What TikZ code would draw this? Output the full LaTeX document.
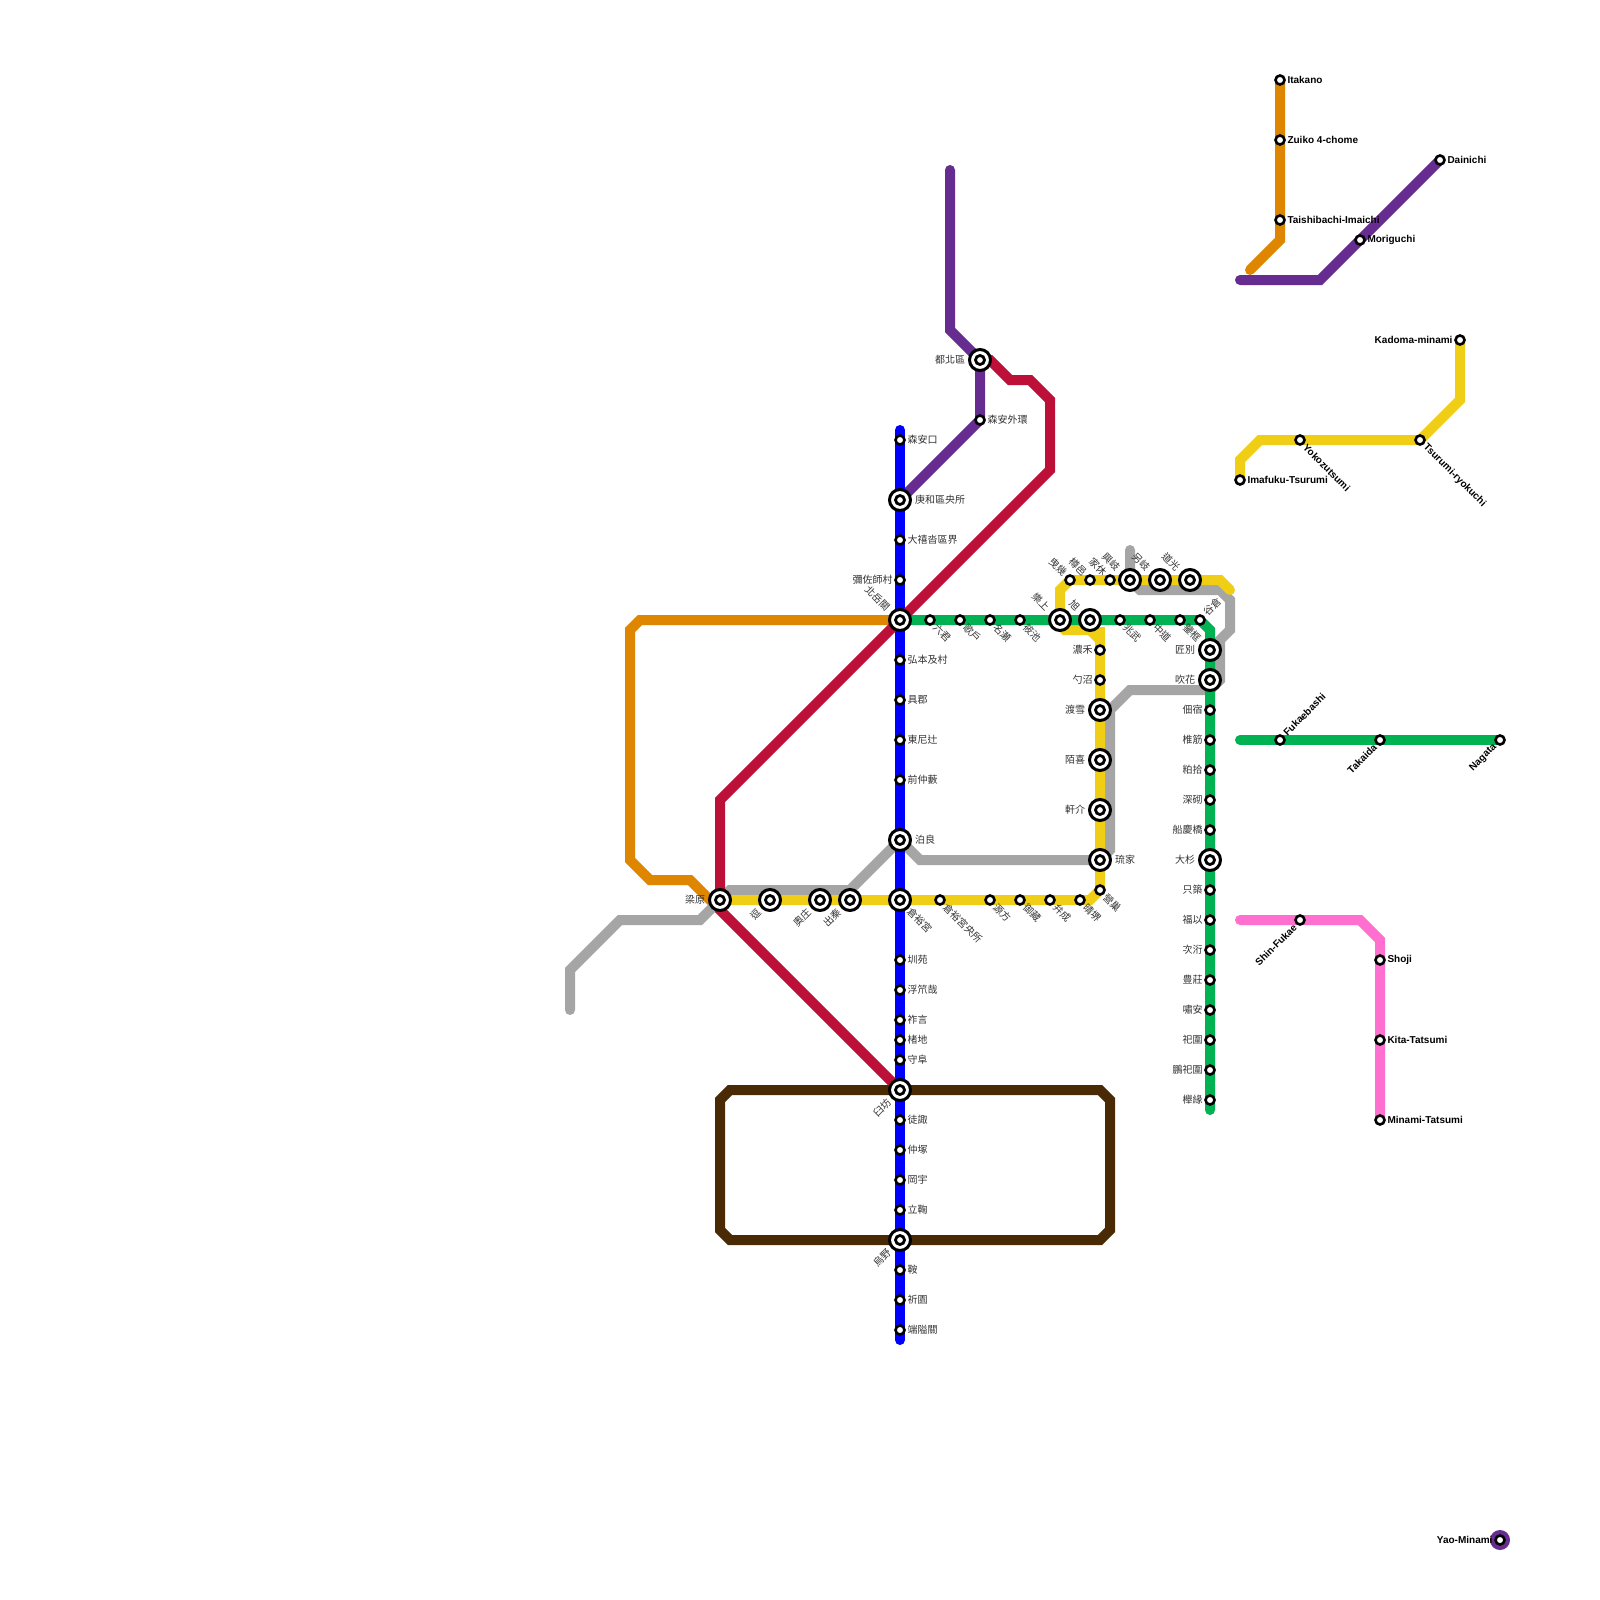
\documentclass[tikz,border=0pt]{standalone}
\usepackage{fontspec}
\setmainfont{Noto Sans CJK TC}
\newfontfamily\enfont{Liberation Sans}
\usetikzlibrary{backgrounds,calc}
\definecolor{cbl}{HTML}{0000FF}
\definecolor{cgr}{HTML}{00B251}
\definecolor{cye}{HTML}{F0CE15}
\definecolor{cor}{HTML}{DF8600}
\definecolor{ccr}{HTML}{BD1038}
\definecolor{cpu}{HTML}{662C90}
\definecolor{cgy}{HTML}{A5A5A5}
\definecolor{cpk}{HTML}{FF6FCF}
\definecolor{cbr}{HTML}{4A2A04}
\tikzset{
  x=1pt,y=-1pt,
  railline/.style={line width=10pt,line cap=round,miter limit=10},
  sts/.style={circle,draw=black,fill=white,line width=2.6pt,minimum size=9pt,inner sep=0pt,outer sep=0pt},
  sti/.style={circle,draw=black,fill=white,line width=3pt,minimum size=21pt,inner sep=0pt,outer sep=0pt},
  stc/.style={circle,draw=black,fill=white,line width=2.8pt,minimum size=9pt,inner sep=0pt,outer sep=0pt},
  lab/.style={inner sep=0pt,outer sep=0pt,text=black!80,font=\fontsize{10}{12}\selectfont},
  labr/.style={anchor=west},
  labl/.style={anchor=east},
  labd/.style={anchor=west,rotate=-45},
  labu/.style={anchor=east,rotate=-45},
  labb/.style={anchor=east,rotate=45},
  labt/.style={anchor=west,rotate=45},
  en/.style={text=black,font=\fontsize{10}{12}\selectfont\enfont\bfseries},
}
\def\offrs{7.5,0}\def\offri{15,0}
\def\offls{-7.5,0}\def\offli{-15,0}
\def\offds{5,6}\def\offdi{9,10}
\def\offus{-5,-6}\def\offui{-12,-11}
\def\offbs{-5,6}\def\offbi{-11,11}
\def\offts{5,-6}\def\offti{11,-11}
% type (s/i), name, x, y, label side, text
\newcommand\St[6]{%
  \node[st#1] (#2) at (#3,#4) {};
  \ifx s#1\else\node[stc] (#2c) at (#3,#4) {};\fi
  \edef\myoff{\csname off#5#1\endcsname}%
  \node[lab,lab#5] (#2l) at ($(#2.center)+(\myoff)$) {#6};
}
\newcommand\En[6]{%
  \node[st#1] (#2) at (#3,#4) {};
  \edef\myoff{\csname off#5#1\endcsname}%
  \node[lab,en,lab#5] (#2l) at ($(#2.center)+(\myoff)$) {#6};
}
\begin{document}
\begin{tikzpicture}
\useasboundingbox (0,0) rectangle (1600,1600);
% Blue column
\St{s}{b1}{900}{440}{r}{森安口}
\St{i}{b2}{900}{500}{r}{庚和區央所}
\St{s}{b3}{900}{540}{r}{大禧沓區界}
\St{s}{b4}{900}{580}{l}{彌佐師村}
\St{i}{b5}{900}{620}{u}{北岳關}
\St{s}{b6}{900}{660}{r}{弘本及村}
\St{s}{b7}{900}{700}{r}{具郡}
\St{s}{b8}{900}{740}{r}{東尼辻}
\St{s}{b9}{900}{780}{r}{前仲藪}
\St{i}{b10}{900}{840}{r}{泊良}
\St{i}{b11}{900}{900}{d}{倉裕宮}
\St{s}{b12}{900}{960}{r}{圳苑}
\St{s}{b13}{900}{990}{r}{浮笊哉}
\St{s}{b14}{900}{1020}{r}{祚言}
\St{s}{b15}{900}{1040}{r}{楮地}
\St{s}{b16}{900}{1060}{r}{守阜}
\St{i}{b17}{900}{1090}{b}{臼坊}
\St{s}{b18}{900}{1120}{r}{徒諏}
\St{s}{b19}{900}{1150}{r}{仲塚}
\St{s}{b20}{900}{1180}{r}{岡宇}
\St{s}{b21}{900}{1210}{r}{立鞠}
\St{i}{b22}{900}{1240}{b}{烏野}
\St{s}{b23}{900}{1270}{r}{鞍}
\St{s}{b24}{900}{1300}{r}{祈園}
\St{s}{b25}{900}{1330}{r}{端隘關}
% Purple
\St{i}{p1}{980}{360}{l}{都北區}
\St{s}{p2}{980}{420}{r}{森安外環}
% Green row
\St{s}{g1}{930}{620}{d}{六君}
\St{s}{g2}{960}{620}{d}{歌戶}
\St{s}{g3}{990}{620}{d}{名瀬}
\St{s}{g4}{1020}{620}{d}{筱池}
\St{i}{g5}{1060}{620}{u}{樂上}
\St{i}{g6}{1090}{620}{u}{旭}
\St{s}{g7}{1120}{620}{d}{兆武}
\St{s}{g8}{1150}{620}{d}{中道}
\St{s}{g9}{1180}{620}{d}{鑒框}
\St{s}{g10}{1200}{620}{t}{谷倉}
% Green column
\St{i}{h1}{1210}{650}{l}{匠別}
\St{i}{h2}{1210}{680}{l}{吹花}
\St{s}{h3}{1210}{710}{l}{佃宿}
\St{s}{h4}{1210}{740}{l}{椎筋}
\St{s}{h5}{1210}{770}{l}{粕拾}
\St{s}{h6}{1210}{800}{l}{深砌}
\St{s}{h7}{1210}{830}{l}{船慶橋}
\St{i}{h8}{1210}{860}{l}{大杉}
\St{s}{h9}{1210}{890}{l}{只築}
\St{s}{h10}{1210}{920}{l}{福以}
\St{s}{h11}{1210}{950}{l}{次洐}
\St{s}{h12}{1210}{980}{l}{豊莊}
\St{s}{h13}{1210}{1010}{l}{嘯安}
\St{s}{h14}{1210}{1040}{l}{祀圍}
\St{s}{h15}{1210}{1070}{l}{鵬祀圍}
\St{s}{h16}{1210}{1100}{l}{櫸緣}
% Yellow top row
\St{s}{t1}{1070}{580}{u}{曳幾}
\St{s}{t2}{1090}{580}{u}{樽邑}
\St{s}{t3}{1110}{580}{u}{家休}
\St{i}{t4}{1130}{580}{u}{興岐}
\St{i}{t5}{1160}{580}{u}{另岐}
\St{i}{t6}{1190}{580}{u}{道光}
% Yellow column
\St{s}{v1}{1100}{650}{l}{濃禾}
\St{s}{v2}{1100}{680}{l}{勺沼}
\St{i}{v3}{1100}{710}{l}{渡雪}
\St{i}{v4}{1100}{760}{l}{陌喜}
\St{i}{v5}{1100}{810}{l}{軒介}
\St{i}{v6}{1100}{860}{r}{琉家}
\St{s}{v7}{1100}{890}{d}{營巢}
% Yellow row
\St{i}{y1}{720}{900}{l}{梁原}
\St{i}{y2}{770}{900}{b}{逗}
\St{i}{y3}{820}{900}{b}{奧庄}
\St{i}{y4}{850}{900}{b}{出秦}
\St{s}{y5}{940}{900}{d}{倉裕宮央所}
\St{s}{y6}{990}{900}{d}{源方}
\St{s}{y7}{1020}{900}{d}{御藏}
\St{s}{y8}{1050}{900}{d}{弁成}
\St{s}{y9}{1080}{900}{d}{晴堺}
% English lines
\En{s}{e1}{1280}{80}{r}{Itakano}
\En{s}{e2}{1280}{140}{r}{Zuiko 4-chome}
\En{s}{e3}{1280}{220}{r}{Taishibachi-Imaichi}
\En{s}{e4}{1440}{160}{r}{Dainichi}
\En{s}{e5}{1360}{240}{r}{Moriguchi}
\En{s}{e6}{1460}{340}{l}{Kadoma-minami}
\En{s}{e7}{1420}{440}{d}{Tsurumi-ryokuchi}
\En{s}{e8}{1300}{440}{d}{Yokozutsumi}
\En{s}{e9}{1240}{480}{r}{Imafuku-Tsurumi}
\En{s}{e10}{1280}{740}{t}{Fukaebashi}
\En{s}{e11}{1380}{740}{b}{Takaida}
\En{s}{e12}{1500}{740}{b}{Nagata}
\En{s}{e13}{1300}{920}{b}{Shin-Fukae}
\En{s}{e14}{1380}{960}{r}{Shoji}
\En{s}{e15}{1380}{1040}{r}{Kita-Tatsumi}
\En{s}{e16}{1380}{1120}{r}{Minami-Tatsumi}
\En{s}{e17}{1500}{1540}{l}{Yao-Minami}
% Bend points
\coordinate (or1) at (640,620); \coordinate (or2) at (630,630); \coordinate (or3) at (630,860);
\coordinate (or4) at (650,880); \coordinate (or5) at (690,880); \coordinate (or6) at (710,900);
\coordinate (cr1) at (990,360); \coordinate (cr2) at (1010,380); \coordinate (cr3) at (1030,380);
\coordinate (cr4) at (1050,400); \coordinate (cr5) at (1050,470); \coordinate (cr6) at (720,800);
\coordinate (cr7) at (720,910);
\coordinate (pu0) at (950,170); \coordinate (pu1) at (950,330);
\coordinate (gy0) at (570,1010); \coordinate (gy1) at (570,970); \coordinate (gy2) at (620,920);
\coordinate (gy3) at (700,920); \coordinate (gy4) at (730,890); \coordinate (gy5) at (850,890);
\coordinate (gy6) at (920,860); \coordinate (gy7) at (1110,850); \coordinate (gy8) at (1110,710);
\coordinate (gy9) at (1130,690); \coordinate (gy10) at (1210,690); \coordinate (gy11) at (1220,680);
\coordinate (gy12) at (1220,640); \coordinate (gy13) at (1230,630); \coordinate (gy14) at (1230,600);
\coordinate (gy15) at (1220,590); \coordinate (gy16) at (1140,590); \coordinate (gy17) at (1130,550);
\coordinate (ye1) at (1230,590); \coordinate (ye2) at (1220,580); \coordinate (ye3) at (1060,590);
\coordinate (ye4a) at (1060,625); \coordinate (ye4b) at (1065,630); \coordinate (ye5) at (1090,630); \coordinate (ye6) at (1100,640);
\coordinate (ye6b) at (1100,627);
\coordinate (ye7) at (1090,900);
\coordinate (gr1) at (1200,620); \coordinate (gr2) at (1210,630); \coordinate (gr3) at (1210,1110);
\coordinate (bl0) at (900,430); \coordinate (bl1) at (900,1340);
\coordinate (br1) at (730,1090); \coordinate (br2) at (1100,1090); \coordinate (br3) at (1110,1100);
\coordinate (br4) at (1110,1230); \coordinate (br5) at (1100,1240); \coordinate (br6) at (730,1240);
\coordinate (br7) at (720,1230); \coordinate (br8) at (720,1100);
\coordinate (op1) at (1280,240); \coordinate (op2) at (1250,270);
\coordinate (pp1) at (1240,280); \coordinate (pp2) at (1320,280);
\coordinate (yp1) at (1240,460); \coordinate (yp2) at (1260,440); \coordinate (yp3) at (1460,400);
\coordinate (gp1) at (1240,740);
\coordinate (kp1) at (1240,920); \coordinate (kp2) at (1360,920); \coordinate (kp3) at (1380,940);
\begin{pgfonlayer}{background}
\fill[white] (0,0) rectangle (1600,1600);
\fill[cpu] (e17.center) circle (10);
\draw[railline,cor] (b5.center)--(or1)--(or2)--(or3)--(or4)--(or5)--(or6)--(y1.center);
\draw[railline,cgy] (gy0)--(gy1)--(gy2)--(gy3)--(y1.center)--(gy4)--(gy5)--(b10.center)--(gy6)--(v6.center)--(gy7)--(gy8)--(gy9)--(gy10)--(gy11)--(gy12)--(gy13)--(gy14)--(gy15)--(gy16)--(t4.center)--(gy17);
\draw[railline,cpu] (pu0)--(pu1)--(p1.center)--(p2.center)--(b2.center);
\draw[railline,cye] (ye1)--(ye2)--(t1.center)--(ye3)--(ye4a)--(ye4b)--(ye5)--(ye6)--(v7.center)--(ye7)--(y1.center);
\draw[cye,line width=10pt] (ye6b)--(ye6);
\draw[railline,cgr] (b5.center)--(gr1)--(gr2)--(gr3);
\draw[railline,cbr] (br1)--(br2)--(br3)--(br4)--(br5)--(br6)--(br7)--(br8)--cycle;
\draw[railline,cbl] (bl0)--(bl1);
\draw[railline,ccr] (p1.center)--(cr1)--(cr2)--(cr3)--(cr4)--(cr5)--(cr6)--(cr7)--(b17.center);
\draw[railline,cor] (e1.center)--(op1)--(op2);
\draw[railline,cpu] (pp1)--(pp2)--(e4.center);
\draw[railline,cye] (e9.center)--(yp1)--(yp2)--(e7.center)--(yp3)--(e6.center);
\draw[railline,cgr] (gp1)--(e12.center);
\draw[railline,cpk] (kp1)--(kp2)--(kp3)--(e16.center);
\end{pgfonlayer}
\end{tikzpicture}
\end{document}
